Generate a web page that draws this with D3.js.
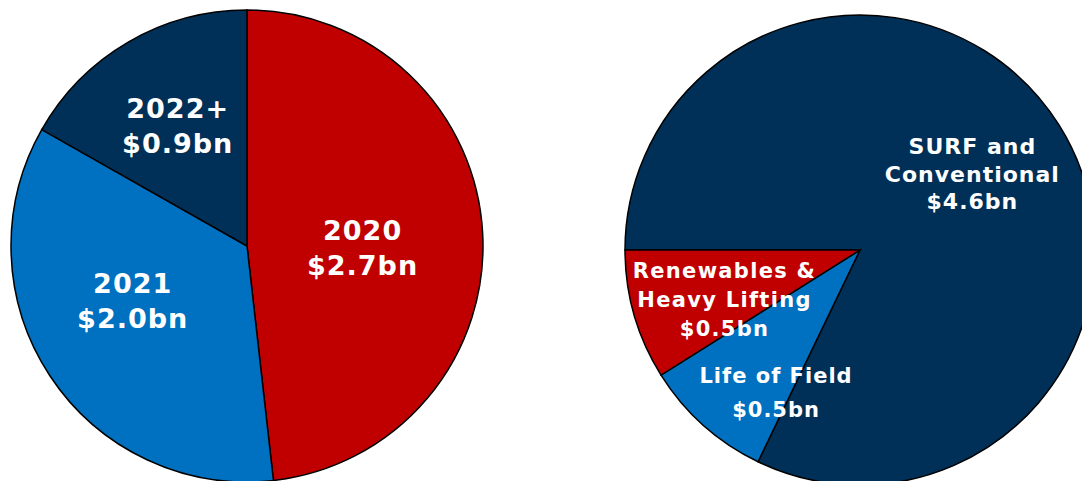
<!DOCTYPE html>
<html>
<head>
<meta charset="utf-8">
<script src="https://cdn.jsdelivr.net/npm/d3@7"></script>
<style>
  body { margin: 0; background: #fff; }
  .labels text {
    font-family: "DejaVu Sans", Verdana, sans-serif;
    font-weight: bold;
    fill: #fff;
  }
  .slices path { stroke: #000; stroke-width: 1.5; }
</style>
</head>
<body>
<div id="chart"></div>
<script>
// backlog by year of execution
var yearNames = ["2020", "2021", "2022+"];
var yearValues = [2.7, 1.96, 0.94];
var yearColors = ["#C00000", "#0070C0", "#003057"];

// backlog by business segment
var segNames = ["SURF and\nConventional", "Life of Field", "Renewables &\nHeavy Lifting"];
var segValues = [4.6, 0.5, 0.5];
var segColors = ["#003057", "#0070C0", "#C00000"];

var width = 1082, height = 481;

var svg = d3.select("#chart").append("svg")
  .attr("width", width)
  .attr("height", height);

function drawPie(opts) {
  var data = opts.names.map(function(n, i) {
    return { name: n, value: opts.values[i], color: opts.colors[i], lay: opts.layout[i] };
  });

  var pie = d3.pie()
    .sort(null)
    .value(function(d) { return d.value; })
    .startAngle(opts.start)
    .endAngle(opts.start + 2 * Math.PI);

  var arc = d3.arc().innerRadius(0).outerRadius(opts.r);
  var labelArc = d3.arc().innerRadius(opts.r * opts.k).outerRadius(opts.r * opts.k);

  var g = svg.append("g").attr("transform", "translate(" + opts.cx + "," + opts.cy + ")");
  var arcs = pie(data);

  g.append("g").attr("class", "slices")
    .selectAll("path")
    .data(arcs)
    .enter().append("path")
    .attr("d", arc)
    .attr("fill", function(d) { return d.data.color; });

  var text = g.append("g").attr("class", "labels")
    .selectAll("text")
    .data(arcs)
    .enter().append("text")
    .attr("text-anchor", "middle")
    .style("font-size", function(d) { return d.data.lay.fs + "px"; })
    .style("letter-spacing", function(d) { return d.data.lay.ls + "px"; });

  text.each(function(d) {
    var lay = d.data.lay;
    var c = labelArc.centroid(d);
    var x = c[0] + lay.dx, y = c[1] + lay.dy;
    var lines = d.data.name.split("\n").concat(["$" + d.data.value.toFixed(1) + "bn"]);
    var y0 = y - (lines.length - 1) * lay.lh / 2 + 0.36 * lay.fs;
    d3.select(this).selectAll("tspan")
      .data(lines)
      .enter().append("tspan")
      .attr("x", x)
      .attr("y", function(l, i) { return y0 + i * lay.lh; })
      .text(function(l) { return l; });
  });
}

drawPie({
  names: yearNames, values: yearValues, colors: yearColors,
  cx: 247, cy: 246, r: 236, start: 0, k: 0.55,
  layout: [
    { fs: 27, lh: 35, ls: 1, dx: -14, dy: 9 },
    { fs: 27, lh: 35, ls: 1, dx: -6, dy: -17 },
    { fs: 27, lh: 35, ls: 1, dx: -4, dy: -8 }
  ]
});

drawPie({
  names: segNames, values: segValues, colors: segColors,
  cx: 860, cy: 250, r: 235, start: -Math.PI / 2, k: 0.6,
  layout: [
    { fs: 22, lh: 27.5, ls: 1, dx: -7, dy: -1 },
    { fs: 21, lh: 34, ls: 1, dx: 10, dy: 37 },
    { fs: 21, lh: 29, ls: 1.3, dx: 0, dy: 10 }
  ]
});
</script>
</body>
</html>
